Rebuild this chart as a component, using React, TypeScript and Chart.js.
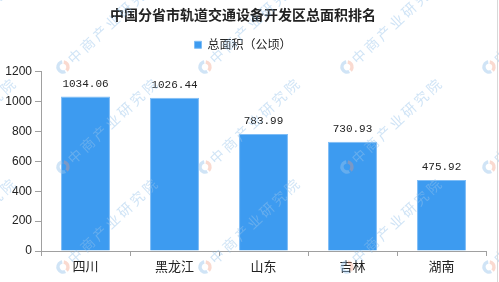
import React, { useEffect, useRef } from "react";
import { Chart, registerables, layouts } from "chart.js";

Chart.register(...registerables);

const chartTitle = "中国分省市轨道交通设备开发区总面积排名";
const seriesName = "总面积（公顷）";
const categories = ["四川", "黑龙江", "山东", "吉林", "湖南"];
const areaValues = [1034.06, 1026.44, 783.99, 730.93, 475.92];
const yMin = 0;
const yMax = 1200;
const yStep = 200;
const watermarkText = "中商产业研究院";

const BAR_COLOR = "#3d9bf0";
const BAR_BORDER = "#7fbdf6";
const AXIS_COLOR = "#a0a0a0";
const TEXT_COLOR = "#222222";
const CJK = "'Noto Sans CJK SC', 'Noto Sans', sans-serif";

const valueLabelPlugin = {
  id: "valueLabels",
  afterDatasetsDraw(chart: any) {
    const ctx = chart.ctx;
    const meta = chart.getDatasetMeta(0);
    const data = chart.data.datasets[0].data as number[];
    ctx.save();
    ctx.font = "11px 'Liberation Mono', 'DejaVu Sans Mono', monospace";
    ctx.fillStyle = TEXT_COLOR;
    ctx.textAlign = "center";
    ctx.textBaseline = "bottom";
    meta.data.forEach((bar: any, i: number) => {
      ctx.fillText(data[i].toFixed(2), bar.x, bar.y - 7);
    });
    ctx.restore();
  },
};

// gap between the legend and the plot area
const spacerPlugin = {
  id: "legendSpacer",
  beforeInit(chart: any) {
    const box: any = {
      position: "top",
      weight: 500,
      fullSize: true,
      options: {},
      left: 0,
      top: 0,
      right: 0,
      bottom: 0,
      width: 0,
      height: 0,
      isHorizontal() {
        return true;
      },
      update(maxWidth: number) {
        box.width = maxWidth;
        box.height = 11;
      },
      draw() {},
    };
    layouts.addBox(chart, box);
  },
};

const watermarkPlugin = {
  id: "watermark",
  afterDraw(chart: any) {
    const ctx = chart.ctx;
    const stepX = 142;
    const stepY = 100;
    ctx.save();
    for (let cy = 67; cy < chart.height + 60; cy += stepY) {
      for (let cx = -79; cx < chart.width + 40; cx += stepX) {
        ctx.save();
        ctx.lineWidth = 3.5;
        ctx.strokeStyle = "rgba(150,195,235,0.45)";
        ctx.beginPath();
        ctx.arc(cx, cy, 5, Math.PI * 0.35, Math.PI * 1.45);
        ctx.stroke();
        ctx.strokeStyle = "rgba(240,150,120,0.35)";
        ctx.beginPath();
        ctx.arc(cx, cy, 5, Math.PI * 1.55, Math.PI * 0.25);
        ctx.stroke();
        ctx.restore();
        ctx.save();
        ctx.translate(cx + 7, cy - 6);
        ctx.rotate((-43 * Math.PI) / 180);
        ctx.font = `14px ${CJK}`;
        (ctx as any).letterSpacing = "3px";
        ctx.fillStyle = "rgba(150,195,235,0.45)";
        ctx.textAlign = "left";
        ctx.textBaseline = "middle";
        ctx.fillText(watermarkText, 0, 0);
        ctx.restore();
      }
    }
    ctx.restore();
  },
};

const frameLinePlugin = {
  id: "frameLine",
  afterDraw(chart: any) {
    const ctx = chart.ctx;
    ctx.save();
    ctx.strokeStyle = "#d8d8d8";
    ctx.lineWidth = 1;
    ctx.beginPath();
    ctx.moveTo(chart.width - 1.5, 0);
    ctx.lineTo(chart.width - 1.5, chart.height);
    ctx.stroke();
    ctx.restore();
  },
};

export default function App() {
  const canvasRef = useRef<HTMLCanvasElement | null>(null);

  useEffect(() => {
    document.body.style.margin = "0";
    const canvas = canvasRef.current;
    if (!canvas) return;
    const chart = new Chart(canvas, {
      type: "bar",
      data: {
        labels: categories,
        datasets: [
          {
            label: seriesName,
            data: areaValues,
            backgroundColor: BAR_COLOR,
            borderColor: BAR_BORDER,
            borderWidth: 1,
            barPercentage: 0.55,
            categoryPercentage: 1,
          },
        ],
      },
      options: {
        responsive: false,
        animation: false,
        layout: { padding: { left: 0, right: 13, top: 0, bottom: 0 } },
        plugins: {
          title: {
            display: true,
            text: chartTitle,
            color: TEXT_COLOR,
            font: { family: CJK, size: 14, weight: "bold" },
            padding: { top: 6, bottom: 8 },
          },
          legend: {
            display: true,
            labels: {
              color: TEXT_COLOR,
              font: { family: CJK, size: 12 },
              boxWidth: 7,
              boxHeight: 7,
              padding: 8,
            },
          },
          tooltip: { enabled: false },
        },
        scales: {
          x: {
            grid: {
              display: true,
              drawOnChartArea: false,
              drawTicks: true,
              tickLength: 5,
              color: AXIS_COLOR,
              offset: true,
            },
            border: { display: true, color: AXIS_COLOR, width: 1 },
            ticks: {
              color: TEXT_COLOR,
              font: { family: CJK, size: 13 },
              padding: 2,
              maxRotation: 0,
            },
            afterFit(scale: any) {
              scale.height = 31;
            },
          },
          y: {
            min: yMin,
            max: yMax,
            grid: {
              display: true,
              drawOnChartArea: false,
              drawTicks: true,
              tickLength: 6,
              color: AXIS_COLOR,
            },
            border: { display: true, color: AXIS_COLOR, width: 1 },
            ticks: {
              stepSize: yStep,
              color: TEXT_COLOR,
              font: { family: "'Liberation Sans', Arial, sans-serif", size: 12 },
              padding: 3,
              callback: (v: any) => String(v),
            },
            afterFit(scale: any) {
              scale.width = 41;
            },
          },
        },
      },
      plugins: [spacerPlugin, valueLabelPlugin, watermarkPlugin, frameLinePlugin],
    });
    return () => chart.destroy();
  }, []);

  return (
    <div style={{ width: 499, height: 282, background: "#ffffff" }}>
      <canvas ref={canvasRef} width={499} height={282} style={{ display: "block" }} />
    </div>
  );
}
